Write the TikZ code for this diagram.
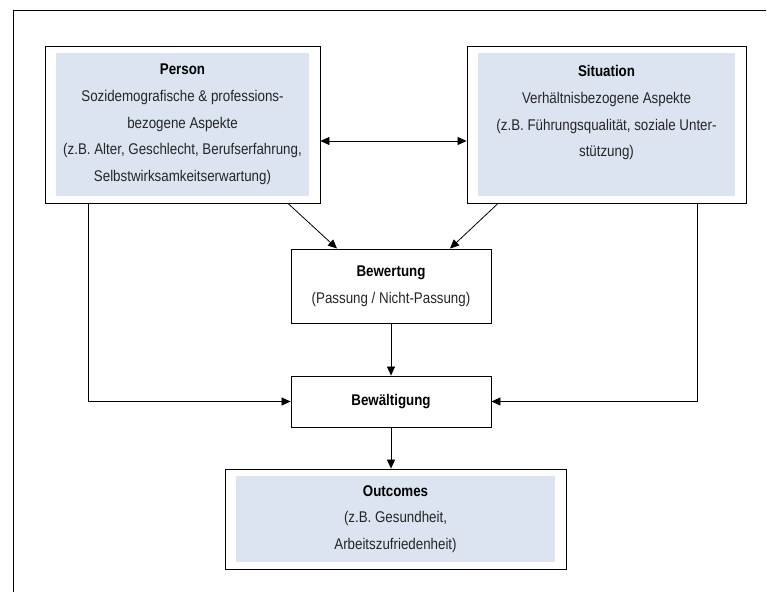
\documentclass[tikz,border=0pt]{standalone}
\usepackage{fontspec}
\setmainfont{Liberation Sans}[FakeStretch=0.86]
\usepackage{tikz}
\usetikzlibrary{arrows.meta}
\definecolor{boxblue}{RGB}{219,228,240}

\begin{document}
\begin{tikzpicture}[x=1pt,y=-1pt,
    every node/.style={font=\fontsize{15.5}{26.7}\selectfont, text=black!85, align=center, inner sep=0pt},
    plain/.style={draw, fill=white, line width=0.9pt},
    shaded/.style={plain, path picture={\fill[boxblue] ([shift={(11pt,-7pt)}]path picture bounding box.north west) rectangle ([shift={(-11pt,7pt)}]path picture bounding box.south east);}},
    link/.style={line width=0.8pt, -{Triangle[length=9pt,width=8pt]}},
    twoway/.style={line width=0.8pt, {Triangle[length=9pt,width=8pt]}-{Triangle[length=9pt,width=8pt]}}]
    \useasboundingbox (0,0) rectangle (767,592);
    \draw[line width=0.9pt] (766,10) -- (13,10) -- (13,592);
    \node[shaded, minimum width=275pt, minimum height=157pt] (person) at (182.5,124.5)
      {\textbf{\color{black}Person}\\Sozidemografische \& professions-\\bezogene Aspekte\\(z.B. Alter, Geschlecht, Berufserfahrung,\\Selbstwirksamkeitserwartung)};
    \node[shaded, minimum width=279pt, minimum height=157pt] (situation) at (606.5,124.5)
      {\textbf{\color{black}Situation}\\Verhältnisbezogene Aspekte\\(z.B. Führungsqualität, soziale Unter-\\stützung)\\~};
    \node[plain, minimum width=200pt, minimum height=74pt] (bewertung) at (391,286)
      {\textbf{\color{black}Bewertung}\\(Passung / Nicht-Passung)};
    \node[plain, minimum width=200pt, minimum height=51pt] (bewaeltigung) at (391,401.5)
      {\textbf{\color{black}Bewältigung}};
    \node[shaded, minimum width=341pt, minimum height=100pt] (outcomes) at (395.5,519)
      {\textbf{\color{black}Outcomes}\\(z.B. Gesundheit,\\Arbeitszufriedenheit)};
    \draw[twoway] ([yshift=-16.5pt]person.east) -- ([yshift=-16.5pt]situation.west);
    \draw[link] ([xshift=105.5pt]person.south) -- ([xshift=-54pt]bewertung.north);
    \draw[link] ([xshift=-108.5pt]situation.south) -- ([xshift=59pt]bewertung.north);
    \draw[link] (bewertung) -- (bewaeltigung);
    \draw[link] (bewaeltigung.south) -- (bewaeltigung.south |- outcomes.north);
    \draw[link] ([xshift=-94.5pt]person.south) |- (bewaeltigung.west);
    \draw[link] ([xshift=90.5pt]situation.south) |- (bewaeltigung.east);
\end{tikzpicture}
\end{document}
